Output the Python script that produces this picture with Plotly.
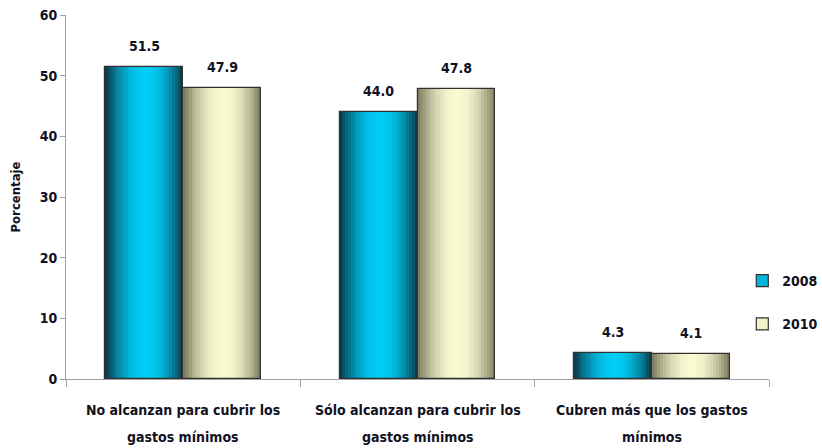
import plotly.graph_objects as go

categories = ["No alcanzan para cubrir los gastos mínimos",
              "Sólo alcanzan para cubrir los gastos mínimos",
              "Cubren más que los gastos mínimos"]
label_lines = [["No alcanzan para cubrir los", "gastos mínimos"],
               ["Sólo alcanzan para cubrir los", "gastos mínimos"],
               ["Cubren más que los gastos", "mínimos"]]
series_names = ["2008", "2010"]
values_2008 = [51.5, 44.0, 4.3]
values_2010 = [47.9, 47.8, 4.1]
y_ticks = [0, 10, 20, 30, 40, 50, 60]

FONT = "DejaVu Sans Condensed, Liberation Sans Narrow, Arial Narrow, sans-serif"
BAR_W = 0.332
STRIPS = 28

# cylinder shading: (edge colour, highlight colour, legend swatch)
shades = {
    "2008": ((10, 52, 66), (0, 204, 245), "#00b4dc"),
    "2010": ((118, 118, 90), (250, 250, 210), "#f2f2c8"),
}


def mix(c0, c1, t):
    return "rgb(%d,%d,%d)" % tuple(round(a + (b - a) * t) for a, b in zip(c0, c1))


def profile(t):
    # brightness across the bar width, peak slightly right of centre
    peak = 0.52
    d = (t - peak) / (peak if t < peak else 1 - peak)
    return max(0.0, 1 - abs(d) ** 2.0)


x_idx = list(range(len(categories)))
fig = go.Figure()

for name, vals, base_off in [("2008", values_2008, -BAR_W), ("2010", values_2010, 0.0)]:
    edge, hi, swatch = shades[name]
    sw = BAR_W / STRIPS
    for i in range(STRIPS):
        t = (i + 0.5) / STRIPS
        fig.add_trace(go.Bar(
            x=x_idx, y=vals, width=sw * 1.04, offset=base_off + i * sw,
            marker=dict(color=mix(edge, hi, profile(t)), line=dict(width=0)),
            showlegend=False, hoverinfo="skip"))
    # outline
    fig.add_trace(go.Bar(
        x=x_idx, y=vals, width=BAR_W, offset=base_off,
        marker=dict(color="rgba(0,0,0,0)", line=dict(color="#303030", width=1.2)),
        showlegend=False, hoverinfo="skip"))
    # value labels above each bar
    for xi, v in zip(x_idx, vals):
        fig.add_annotation(x=xi + base_off + BAR_W / 2, y=v, xref="x", yref="y",
                           yshift=21, text="<b>%.1f</b>" % v, showarrow=False,
                           font=dict(family=FONT, size=14, color="#111122"))
    # legend swatch
    fig.add_trace(go.Bar(
        x=[None], y=[None], name="<b>%s</b>" % name, legendgroup=name,
        marker=dict(color=swatch, line=dict(color="#303030", width=1.2))))

for i, lines in enumerate(label_lines):
    for j, line in enumerate(lines):
        fig.add_annotation(x=i, y=0, xref="x", yref="y", yshift=-31 - 27 * j,
                           text="<b>%s</b>" % line, showarrow=False,
                           font=dict(family=FONT, size=14, color="#111122"))

fig.update_layout(
    width=822, height=448,
    margin=dict(l=66, r=53, t=15, b=69, autoexpand=False),
    paper_bgcolor="white", plot_bgcolor="white",
    barmode="overlay", bargap=0,
    font=dict(family=FONT, size=14, color="#111122"),
    showlegend=True,
    legend=dict(x=0.962, y=0.21, xanchor="left", yanchor="middle",
                traceorder="grouped", tracegroupgap=22,
                bgcolor="rgba(0,0,0,0)",
                font=dict(family=FONT, size=14, color="#111122"),
                itemwidth=30),
)
fig.update_xaxes(range=[-0.5, 2.5], tickmode="array", tickvals=[-0.5, 0.5, 1.5, 2.5],
                 ticktext=["", "", "", ""], ticks="outside", ticklen=7,
                 tickcolor="#a0a0a0", showline=True, linecolor="#a0a0a0",
                 linewidth=1, showgrid=False, zeroline=False)
fig.update_yaxes(range=[0, 60], tickvals=y_ticks,
                 ticktext=["<b>%d</b>" % v for v in y_ticks],
                 ticks="outside", ticklen=5, tickcolor="#a0a0a0",
                 showline=True, linecolor="#a0a0a0", linewidth=1,
                 showgrid=False, zeroline=False,
                 tickfont=dict(family=FONT, size=14, color="#111122"),
                 title=dict(text="<b>Porcentaje</b>", standoff=16,
                            font=dict(family=FONT, size=13, color="#111122")))

fig.write_html("out.html")
